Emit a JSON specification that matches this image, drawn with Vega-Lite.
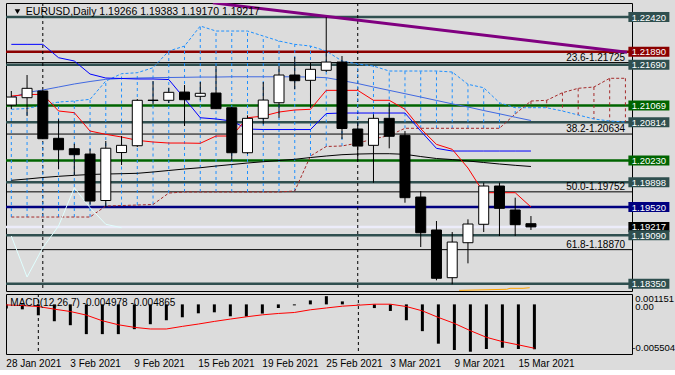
{
  "$schema": "https://vega.github.io/schema/vega-lite/v6.json",
  "background": "#dcdcdc",
  "padding": {"left": 3, "top": 2, "right": 0, "bottom": 0},
  "spacing": 3,
  "bounds": "flush",
  "config": {
    "view": {"stroke": "#000000", "strokeWidth": 1, "fill": "#dcdcdc"},
    "axis": {"labelFont": "Liberation Sans", "labelFontSize": 10, "labelColor": "#000000", "domainColor": "#000000", "tickColor": "#000000", "grid": false, "tickSize": 3, "labelPadding": 3},
    "text": {"font": "Liberation Sans", "fontSize": 10}
  },
  "datasets": {
    "candles": [
      {"i":0,"o":1.21077,"h":1.21291,"l":1.21016,"c":1.21199,"tk":1.21214,"kj":1.22003,"ma1":1.21189,"ma2":1.19928,"m":-0.00047,"s":-0.00006},
      {"i":1,"o":1.21189,"h":1.21535,"l":1.20909,"c":1.21332,"tk":1.21237,"kj":1.22003,"ma1":1.21268,"ma2":1.19948,"m":-0.00055,"s":-0.00013},
      {"i":2,"o":1.21291,"h":1.21306,"l":1.20558,"c":1.20563,"tk":1.2124,"kj":1.22003,"ma1":1.21306,"ma2":1.19971,"m":-0.00121,"s":-0.00024},
      {"i":3,"o":1.20569,"h":1.20859,"l":1.20096,"c":1.20395,"tk":1.20986,"kj":1.21799,"ma1":1.21352,"ma2":1.19989,"m":-0.00187,"s":-0.00053},
      {"i":4,"o":1.2041,"h":1.20487,"l":1.20009,"c":1.20319,"tk":1.2096,"kj":1.21749,"ma1":1.21398,"ma2":1.20004,"m":-0.00231,"s":-0.00079},
      {"i":5,"o":1.20329,"h":1.2041,"l":1.19559,"c":1.19612,"tk":1.2068,"kj":1.2155,"ma1":1.21436,"ma2":1.20017,"m":-0.0033,"s":-0.00119},
      {"i":6,"o":1.1962,"h":1.20528,"l":1.19521,"c":1.20418,"tk":1.2063,"kj":1.21489,"ma1":1.21469,"ma2":1.20024,"m":-0.0033,"s":-0.00182},
      {"i":7,"o":1.20352,"h":1.20604,"l":1.20162,"c":1.20462,"tk":1.20589,"kj":1.21482,"ma1":1.21482,"ma2":1.20029,"m":-0.0033,"s":-0.00226},
      {"i":8,"o":1.20456,"h":1.21169,"l":1.20436,"c":1.21149,"tk":1.20538,"kj":1.21474,"ma1":1.21489,"ma2":1.20035,"m":-0.00275,"s":-0.00255},
      {"i":9,"o":1.21146,"h":1.21443,"l":1.21092,"c":1.21152,"tk":1.20513,"kj":1.21474,"ma1":1.21494,"ma2":1.20055,"m":-0.0022,"s":-0.00273},
      {"i":10,"o":1.21149,"h":1.21341,"l":1.21108,"c":1.21271,"tk":1.20497,"kj":1.21466,"ma1":1.21497,"ma2":1.20078,"m":-0.00176,"s":-0.00273},
      {"i":11,"o":1.21275,"h":1.21382,"l":1.20757,"c":1.21158,"tk":1.20497,"kj":1.21176,"ma1":1.215,"ma2":1.20101,"m":-0.00143,"s":-0.00244},
      {"i":12,"o":1.2121,"h":1.21428,"l":1.21149,"c":1.21256,"tk":1.20493,"kj":1.20883,"ma1":1.21504,"ma2":1.2012,"m":-0.00099,"s":-0.00218},
      {"i":13,"o":1.2126,"h":1.21672,"l":1.21016,"c":1.21021,"tk":1.20604,"kj":1.20864,"ma1":1.21504,"ma2":1.20146,"m":-0.00088,"s":-0.00189},
      {"i":14,"o":1.21036,"h":1.21047,"l":1.20223,"c":1.20349,"tk":1.20604,"kj":1.20833,"ma1":1.21508,"ma2":1.20169,"m":-0.00132,"s":-0.00163},
      {"i":15,"o":1.20349,"h":1.2092,"l":1.20329,"c":1.20874,"tk":1.20883,"kj":1.20711,"ma1":1.21508,"ma2":1.20192,"m":-0.00135,"s":-0.00138},
      {"i":16,"o":1.20874,"h":1.21428,"l":1.20783,"c":1.21153,"tk":1.20909,"kj":1.20703,"ma1":1.21508,"ma2":1.20212,"m":-0.00102,"s":-0.00116},
      {"i":17,"o":1.21112,"h":1.21672,"l":1.20883,"c":1.21535,"tk":1.2097,"kj":1.20703,"ma1":1.21508,"ma2":1.2023,"m":-0.0004,"s":-0.00101},
      {"i":18,"o":1.21535,"h":1.2181,"l":1.21317,"c":1.21448,"tk":1.21001,"kj":1.20703,"ma1":1.21508,"ma2":1.20249,"m":-0.00011,"s":-0.0009},
      {"i":19,"o":1.21454,"h":1.21718,"l":1.21036,"c":1.21622,"tk":1.21012,"kj":1.20703,"ma1":1.21504,"ma2":1.20276,"m":0.00044,"s":-0.0006},
      {"i":20,"o":1.21607,"h":1.22418,"l":1.21581,"c":1.21733,"tk":1.21301,"kj":1.20947,"ma1":1.21494,"ma2":1.20299,"m":0.00091,"s":-0.0004},
      {"i":21,"o":1.21733,"h":1.21825,"l":1.20558,"c":1.20719,"tk":1.21301,"kj":1.20955,"ma1":1.21451,"ma2":1.20319,"m":0.00033,"s":-0.0002},
      {"i":22,"o":1.20711,"h":1.20818,"l":1.20238,"c":1.20451,"tk":1.21301,"kj":1.20955,"ma1":1.21405,"ma2":1.20329,"m":0.00005,"s":-0.00009},
      {"i":23,"o":1.20462,"h":1.20935,"l":1.19891,"c":1.20874,"tk":1.21149,"kj":1.20955,"ma1":1.21352,"ma2":1.20334,"m":-0.00041,"s":0.00002},
      {"i":24,"o":1.20874,"h":1.21112,"l":1.20416,"c":1.206,"tk":1.21149,"kj":1.20955,"ma1":1.21301,"ma2":1.20334,"m":-0.00073,"s":0.00002},
      {"i":25,"o":1.20615,"h":1.2068,"l":1.19586,"c":1.19663,"tk":1.21012,"kj":1.20955,"ma1":1.2125,"ma2":1.20325,"m":-0.00176,"s":-0.00024},
      {"i":26,"o":1.19673,"h":1.19765,"l":1.1891,"c":1.19128,"tk":1.20716,"kj":1.2068,"ma1":1.21199,"ma2":1.20291,"m":-0.00297,"s":-0.00072},
      {"i":27,"o":1.1917,"h":1.19307,"l":1.18402,"c":1.18433,"tk":1.20477,"kj":1.20416,"ma1":1.21147,"ma2":1.20261,"m":-0.00436,"s":-0.00145},
      {"i":28,"o":1.18442,"h":1.19139,"l":1.18341,"c":1.18986,"tk":1.20401,"kj":1.20375,"ma1":1.21095,"ma2":1.20245,"m":-0.00506,"s":-0.00211},
      {"i":29,"o":1.18976,"h":1.19333,"l":1.18661,"c":1.19261,"tk":1.20116,"kj":1.20375,"ma1":1.21047,"ma2":1.20223,"m":-0.00525,"s":-0.00292},
      {"i":30,"o":1.19257,"h":1.19891,"l":1.19139,"c":1.19841,"tk":1.19739,"kj":1.20375,"ma1":1.20993,"ma2":1.202,"m":-0.00495,"s":-0.00365},
      {"i":31,"o":1.19841,"h":1.19891,"l":1.19078,"c":1.19501,"tk":1.19739,"kj":1.20375,"ma1":1.20943,"ma2":1.20177,"m":-0.00481,"s":-0.00413},
      {"i":32,"o":1.19475,"h":1.19663,"l":1.19078,"c":1.19251,"tk":1.19739,"kj":1.20375,"ma1":1.20891,"ma2":1.20157,"m":-0.00495,"s":-0.00449},
      {"i":33,"o":1.19266,"h":1.19383,"l":1.1917,"c":1.19217,"tk":1.19521,"kj":1.20375,"ma1":1.20841,"ma2":1.20139,"m":-0.004978,"s":-0.004865}
    ],
    "chikou": [
      {"i":0,"v":1.19078},{"i":1,"v":1.18452},{"i":2,"v":1.18899},{"i":3,"v":1.19231},
      {"i":4,"v":1.19815},{"i":5,"v":1.1951},{"i":6,"v":1.19257},{"i":7,"v":1.19205}
    ],
    "cloud": [
      {"i":0,"a":1.19368,"b":1.21012},{"i":1,"a":1.19368,"b":1.21024},{"i":2,"a":1.19368,"b":1.21077},
      {"i":3,"a":1.19368,"b":1.21123},{"i":4,"a":1.19368,"b":1.21138},{"i":5,"a":1.19368,"b":1.21164},
      {"i":6,"a":1.19536,"b":1.21443},{"i":7,"a":1.19543,"b":1.21555},{"i":8,"a":1.19551,"b":1.2157},
      {"i":9,"a":1.19559,"b":1.21646},{"i":10,"a":1.19734,"b":1.21901},{"i":11,"a":1.1975,"b":1.21977},
      {"i":12,"a":1.1975,"b":1.22283},{"i":13,"a":1.1975,"b":1.22206},{"i":14,"a":1.1975,"b":1.22206},
      {"i":15,"a":1.1975,"b":1.22206},{"i":16,"a":1.1975,"b":1.2213},{"i":17,"a":1.1975,"b":1.22054},
      {"i":18,"a":1.19765,"b":1.22003},{"i":19,"a":1.20299,"b":1.21977},{"i":20,"a":1.20444,"b":1.21901},
      {"i":21,"a":1.20452,"b":1.21749},{"i":22,"a":1.20497,"b":1.21703},{"i":23,"a":1.20558,"b":1.21672},
      {"i":24,"a":1.20612,"b":1.21596},{"i":25,"a":1.20722,"b":1.21596},{"i":26,"a":1.20722,"b":1.21596},
      {"i":27,"a":1.20722,"b":1.21596},{"i":28,"a":1.20722,"b":1.21581},{"i":29,"a":1.20722,"b":1.21393},
      {"i":30,"a":1.20722,"b":1.21341},{"i":31,"a":1.20722,"b":1.21112},{"i":32,"a":1.2094,"b":1.21036},
      {"i":33,"a":1.21138,"b":1.21036},{"i":34,"a":1.21149,"b":1.21036},{"i":35,"a":1.21265,"b":1.20986},
      {"i":36,"a":1.21332,"b":1.20925},{"i":37,"a":1.21352,"b":1.20864},{"i":38,"a":1.21485,"b":1.20833},
      {"i":39,"a":1.21485,"b":1.20818}
    ],
    "levels": [
      {"p":1.2242,"k":"level"},{"p":1.2189,"k":"major"},{"p":1.2169,"k":"level"},
      {"p":1.21069,"k":"support"},{"p":1.20814,"k":"level"},{"p":1.2023,"k":"support"},
      {"p":1.19898,"k":"level"},{"p":1.1952,"k":"pivot"},{"p":1.19217,"k":"bid"},
      {"p":1.1909,"k":"level"},{"p":1.1835,"k":"level"}
    ],
    "fib": [
      {"lab":"23.6-1.21725","p":1.21725},{"lab":"38.2-1.20634","p":1.20634},
      {"lab":"50.0-1.19752","p":1.19752},{"lab":"61.8-1.18870","p":1.1887}
    ],
    "months": [{"i":2,"d":"1 Feb 2021"},{"i":22,"d":"1 Mar 2021"}],
    "trend": [{"i":12.8,"p":1.22636},{"i":39.1,"p":1.21883}],
    "orange": [{"i":28.44,"p":1.18249},{"i":31.46,"p":1.18265},{"i":31.67,"p":1.1828},{"i":32.5,"p":1.1828},{"i":32.92,"p":1.18289}],
    "header": [{"t":"EURUSD,Daily  1.19266 1.19383 1.19170 1.19217","x":0.92,"y":1.22501}],
    "macdlabel": [{"t":"MACD(12,26,7) -0.004978 -0.004865"}],
    "macdscale": [{"v":0.001151,"t":"0.001151"},{"v":0,"t":"0.00"},{"v":-0.005504,"t":"-0.005504"}],
    "dates": [
      {"i":0,"d":"28 Jan 2021"},{"i":4,"d":"3 Feb 2021"},{"i":8,"d":"9 Feb 2021"},
      {"i":12,"d":"15 Feb 2021"},{"i":16,"d":"19 Feb 2021"},{"i":20,"d":"25 Feb 2021"},
      {"i":24,"d":"3 Mar 2021"},{"i":28,"d":"9 Mar 2021"},{"i":32,"d":"15 Mar 2021"}
    ]
  },
  "resolve": {"scale": {"x": "independent", "y": "independent"}},
  "vconcat": [
    {
      "width": 626,
      "height": 288,
      "layer": [
        {
          "data": {"name": "levels"},
          "mark": {"type": "rule"},
          "encoding": {
            "y": {"field": "p", "type": "quantitative", "title": null, "scale": {"domain": [1.18239, 1.22634], "nice": false, "zero": false},
                  "axis": {"orient": "right", "values": [1.2233, 1.2182, 1.21325, 1.20815, 1.20305, 1.1981, 1.193, 1.1879, 1.18255], "format": ".5f", "labelOverlap": false, "labelPadding": 3, "tickSize": 3}},
            "stroke": {"field": "k", "type": "nominal", "legend": null, "scale": {"domain": ["level", "major", "support", "pivot", "bid"], "range": ["#2f4f4f", "#8b0000", "#006400", "#000080", "#ececfa"]}},
            "strokeWidth": {"field": "k", "type": "ordinal", "legend": null, "scale": {"domain": ["level", "major", "support", "pivot", "bid"], "range": [2.5, 2.5, 2.5, 2.5, 1]}}
          }
        },
        {
          "data": {"name": "fib"},
          "mark": {"type": "rule", "color": "#000000", "strokeWidth": 1},
          "encoding": {"y": {"field": "p", "type": "quantitative", "axis": null, "scale": {"domain": [1.18239, 1.22634], "nice": false, "zero": false}}}
        },
        {
          "data": {"name": "months"},
          "mark": {"type": "rule", "color": "#000000", "strokeWidth": 1, "strokeDash": [3, 3]},
          "encoding": {"x": {"field": "i", "type": "quantitative", "axis": null, "scale": {"domain": [-0.02, 39.1], "nice": false, "zero": false}}}
        },
        {
          "data": {"name": "cloud"},
          "transform": [{"filter": "datum.b >= datum.a"}],
          "mark": {"type": "rule", "color": "#1e90ff", "strokeWidth": 1, "strokeDash": [3, 3]},
          "encoding": {
            "x": {"field": "i", "type": "quantitative", "axis": null, "scale": {"domain": [-0.02, 39.1], "nice": false, "zero": false}},
            "y": {"field": "a", "type": "quantitative", "axis": null},
            "y2": {"field": "b"}
          }
        },
        {
          "data": {"name": "cloud"},
          "transform": [{"filter": "datum.b < datum.a"}],
          "mark": {"type": "rule", "color": "#a52a2a", "strokeWidth": 1, "strokeDash": [3, 3]},
          "encoding": {
            "x": {"field": "i", "type": "quantitative", "axis": null},
            "y": {"field": "a", "type": "quantitative", "axis": null},
            "y2": {"field": "b"}
          }
        },
        {
          "data": {"name": "cloud"},
          "mark": {"type": "line", "color": "#1e90ff", "strokeWidth": 1, "strokeDash": [3, 2]},
          "encoding": {
            "x": {"field": "i", "type": "quantitative", "axis": null},
            "y": {"field": "b", "type": "quantitative", "axis": null}
          }
        },
        {
          "data": {"name": "cloud"},
          "mark": {"type": "line", "color": "#a52a2a", "strokeWidth": 1, "strokeDash": [3, 2]},
          "encoding": {
            "x": {"field": "i", "type": "quantitative", "axis": null},
            "y": {"field": "a", "type": "quantitative", "axis": null}
          }
        },
        {
          "data": {"name": "chikou"},
          "mark": {"type": "line", "color": "#e0ffff", "strokeWidth": 1},
          "encoding": {
            "x": {"field": "i", "type": "quantitative", "axis": null},
            "y": {"field": "v", "type": "quantitative", "axis": null}
          }
        },
        {
          "data": {"name": "candles"},
          "mark": {"type": "line", "color": "#000000", "strokeWidth": 1},
          "encoding": {
            "x": {"field": "i", "type": "quantitative", "axis": null},
            "y": {"field": "ma2", "type": "quantitative", "axis": null}
          }
        },
        {
          "data": {"name": "candles"},
          "mark": {"type": "line", "color": "#4169e1", "strokeWidth": 1},
          "encoding": {
            "x": {"field": "i", "type": "quantitative", "axis": null},
            "y": {"field": "ma1", "type": "quantitative", "axis": null}
          }
        },
        {
          "data": {"name": "candles"},
          "mark": {"type": "line", "color": "#0000ff", "strokeWidth": 1},
          "encoding": {
            "x": {"field": "i", "type": "quantitative", "axis": null},
            "y": {"field": "kj", "type": "quantitative", "axis": null}
          }
        },
        {
          "data": {"name": "candles"},
          "mark": {"type": "line", "color": "#ff0000", "strokeWidth": 1},
          "encoding": {
            "x": {"field": "i", "type": "quantitative", "axis": null},
            "y": {"field": "tk", "type": "quantitative", "axis": null}
          }
        },
        {
          "data": {"name": "trend"},
          "mark": {"type": "line", "color": "#800080", "strokeWidth": 3, "clip": true},
          "encoding": {
            "x": {"field": "i", "type": "quantitative", "axis": null},
            "y": {"field": "p", "type": "quantitative", "axis": null}
          }
        },
        {
          "data": {"name": "orange"},
          "mark": {"type": "line", "color": "#ffa500", "strokeWidth": 1, "clip": true},
          "encoding": {
            "x": {"field": "i", "type": "quantitative", "axis": null},
            "y": {"field": "p", "type": "quantitative", "axis": null}
          }
        },
        {
          "data": {"name": "candles"},
          "mark": {"type": "rule", "color": "#000000", "strokeWidth": 1, "clip": true},
          "encoding": {
            "x": {"field": "i", "type": "quantitative", "axis": null},
            "y": {"field": "l", "type": "quantitative", "axis": null},
            "y2": {"field": "h"}
          }
        },
        {
          "data": {"name": "candles"},
          "mark": {"type": "bar", "width": 10, "stroke": "#000000", "strokeWidth": 1, "clip": true},
          "encoding": {
            "x": {"field": "i", "type": "quantitative", "axis": null},
            "y": {"field": "o", "type": "quantitative", "axis": null},
            "y2": {"field": "c"},
            "fill": {"condition": {"test": "datum.c >= datum.o", "value": "#ffffff"}, "value": "#000000"}
          }
        },
        {
          "data": {"name": "fib"},
          "mark": {"type": "text", "align": "right", "baseline": "alphabetic", "dy": -2, "color": "#000000", "fontSize": 10},
          "encoding": {
            "x": {"datum": 38.98, "type": "quantitative", "axis": null},
            "y": {"field": "p", "type": "quantitative", "axis": null},
            "text": {"field": "lab"}
          }
        },
        {
          "data": {"name": "levels"},
          "mark": {"type": "tick", "orient": "horizontal", "size": 41, "thickness": 10, "opacity": 1},
          "encoding": {
            "x": {"datum": 40.49, "type": "quantitative", "axis": null},
            "y": {"field": "p", "type": "quantitative", "axis": null},
            "fill": {"field": "k", "type": "nominal", "legend": null, "scale": {"domain": ["level", "major", "support", "pivot", "bid"], "range": ["#2f4f4f", "#8b0000", "#006400", "#000080", "#000000"]}}
          }
        },
        {
          "data": {"name": "levels"},
          "mark": {"type": "text", "align": "center", "baseline": "middle", "color": "#ffffff", "fontSize": 9.5, "dy": 0.5},
          "encoding": {
            "x": {"datum": 40.49, "type": "quantitative", "axis": null},
            "y": {"field": "p", "type": "quantitative", "axis": null},
            "text": {"field": "p", "type": "quantitative", "format": ".5f"}
          }
        },
        {
          "data": {"name": "header"},
          "mark": {"type": "point", "shape": "triangle-down", "size": 30, "filled": true, "color": "#000000", "opacity": 1},
          "encoding": {
            "x": {"datum": 0.39, "type": "quantitative", "axis": null},
            "y": {"field": "y", "type": "quantitative", "axis": null}
          }
        },
        {
          "data": {"name": "header"},
          "mark": {"type": "text", "align": "left", "baseline": "middle", "color": "#000000", "fontSize": 10.5},
          "encoding": {
            "x": {"field": "x", "type": "quantitative", "axis": null},
            "y": {"field": "y", "type": "quantitative", "axis": null},
            "text": {"field": "t"}
          }
        }
      ]
    },
    {
      "width": 626,
      "height": 60,
      "layer": [
        {
          "data": {"name": "candles"},
          "mark": {"type": "rule", "color": "#000000", "strokeWidth": 3, "clip": true},
          "encoding": {
            "x": {"field": "i", "type": "quantitative", "axis": null, "scale": {"domain": [-0.02, 39.1], "nice": false, "zero": false}},
            "y": {"field": "m", "type": "quantitative", "axis": null, "scale": {"domain": [-0.005504, 0.001151], "nice": false, "zero": false}},
            "y2": {"datum": 0}
          }
        },
        {
          "data": {"name": "months"},
          "mark": {"type": "rule", "color": "#000000", "strokeWidth": 1, "strokeDash": [3, 3]},
          "encoding": {"x": {"field": "i", "type": "quantitative", "axis": null}}
        },
        {
          "data": {"name": "candles"},
          "mark": {"type": "line", "color": "#ff0000", "strokeWidth": 1},
          "encoding": {
            "x": {"field": "i", "type": "quantitative", "axis": null},
            "y": {"field": "s", "type": "quantitative", "axis": null}
          }
        },
        {
          "data": {"name": "macdlabel"},
          "mark": {"type": "text", "align": "left", "baseline": "middle", "color": "#000000", "fontSize": 10},
          "encoding": {
            "x": {"datum": 0.25, "type": "quantitative", "axis": null},
            "y": {"datum": 0.00017, "type": "quantitative", "axis": null},
            "text": {"field": "t"}
          }
        },
        {
          "data": {"name": "macdscale"},
          "transform": [{"filter": "datum.v > 0.001"}],
          "mark": {"type": "text", "align": "left", "baseline": "top", "color": "#000000", "fontSize": 9.5, "dy": 0},
          "encoding": {
            "x": {"datum": 39.3, "type": "quantitative", "axis": null},
            "y": {"field": "v", "type": "quantitative", "axis": null},
            "text": {"field": "t"}
          }
        },
        {
          "data": {"name": "macdscale"},
          "transform": [{"filter": "datum.v == 0"}],
          "mark": {"type": "text", "align": "left", "baseline": "middle", "color": "#000000", "fontSize": 9.5, "dy": 3},
          "encoding": {
            "x": {"datum": 39.3, "type": "quantitative", "axis": null},
            "y": {"field": "v", "type": "quantitative", "axis": null},
            "text": {"field": "t"}
          }
        },
        {
          "data": {"name": "macdscale"},
          "transform": [{"filter": "datum.v < -0.005"}],
          "mark": {"type": "text", "align": "left", "baseline": "bottom", "color": "#000000", "fontSize": 9.5, "dy": -1},
          "encoding": {
            "x": {"datum": 39.12, "type": "quantitative", "axis": null},
            "y": {"field": "v", "type": "quantitative", "axis": null},
            "text": {"field": "t"}
          }
        },
        {
          "data": {"name": "dates"},
          "mark": {"type": "text", "align": "left", "baseline": "top", "color": "#000000", "fontSize": 10, "dy": 5},
          "encoding": {
            "x": {"field": "i", "type": "quantitative", "axis": null},
            "y": {"datum": -0.005504, "type": "quantitative", "axis": null},
            "text": {"field": "d"}
          }
        }
      ]
    }
  ]
}
